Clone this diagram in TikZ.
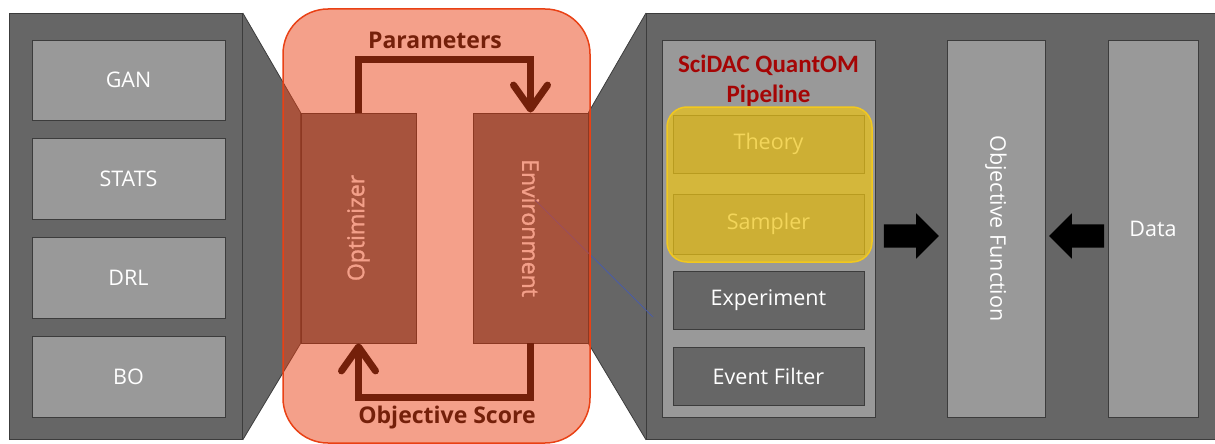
\documentclass[tikz,border=0pt]{standalone}
\usepackage{fontspec}
\setmainfont{Open Sans}
\newfontfamily\titlefont{Carlito}
\newfontfamily\semifont[BoldFont={Open Sans},BoldFeatures={FakeBold=1.2}]{Open Sans}
\usetikzlibrary{arrows.meta,shapes.arrows,backgrounds}
\definecolor{panel}{RGB}{102,102,102}
\definecolor{boxgrey}{RGB}{153,153,153}
\definecolor{edgegrey}{RGB}{60,60,60}
\definecolor{overlayc}{RGB}{233,65,21}
\definecolor{titlered}{RGB}{165,5,5}
\definecolor{yellowov}{RGB}{238,196,20}
\definecolor{yellowedge}{RGB}{242,200,30}
\definecolor{theorygrey}{RGB}{128,128,128}
\definecolor{bluelinec}{RGB}{70,90,175}
\begin{document}
\begin{tikzpicture}[x=1pt,y=-1pt,
  panelbox/.style={fill=panel,draw=edgegrey,line width=0.8pt,inner sep=0pt,anchor=north west},
  lightbox/.style={fill=boxgrey,draw=edgegrey,line width=0.8pt,text=white,inner sep=0pt,
    font=\fontsize{21.5}{26}\selectfont},
  darkbox/.style={fill=panel,draw=edgegrey,line width=0.8pt,text=white,inner sep=0pt,
    font=\fontsize{21.5}{26}\selectfont},
  theorybox/.style={fill=theorygrey,draw=edgegrey,line width=0.8pt,text=white,inner sep=0pt,
    font=\fontsize{21.5}{26}\selectfont},
  midbox/.style={fill=panel,draw=edgegrey!80!black,line width=0.8pt,text=white,inner sep=0pt,
    minimum width=115pt,minimum height=230pt,font=\semifont\bfseries\fontsize{23}{26}\selectfont},
  flowline/.style={line width=7pt,black,-{Straight Barb[length=24pt,width=34pt,round]}},
  flowlabel/.style={text=black,font=\bfseries\fontsize{23}{27}\selectfont,inner sep=0pt},
  blockarrow/.style={single arrow,fill=black,draw=none,inner xsep=0pt,inner ysep=11.5pt,
    minimum height=55pt,minimum width=45pt,single arrow head extend=11pt,
    single arrow tip angle=90},
]
\useasboundingbox (0,0) rectangle (1215,444);

% left panel
\node[panelbox,minimum width=233pt,minimum height=426pt] (left) at (9,13) {};
\node[lightbox,minimum width=193pt,minimum height=80pt] (gan) at (128.5,80) {GAN};
\node[lightbox,minimum width=193pt,minimum height=81pt] (stats) at (128.5,178.5) {STATS};
\node[lightbox,minimum width=193pt,minimum height=81pt] (drl) at (128.5,277.5) {DRL};
\node[lightbox,minimum width=193pt,minimum height=81pt] (bo) at (128.5,376.5) {BO};

% right panel
\node[panelbox,minimum width=572pt,minimum height=426pt] (right) at (646,13) {};
\node[lightbox,anchor=north west,minimum width=213pt,minimum height=377pt] (pipe) at (662,40) {};
\node[text=titlered,align=center,inner sep=0pt,
  font=\titlefont\bfseries\fontsize{25}{30}\selectfont] (title) at (768.5,81) {SciDAC QuantOM\\Pipeline};
\node[theorybox,minimum width=191pt,minimum height=58pt] (theory) at (768.5,144) {Theory};
\node[theorybox,minimum width=191pt,minimum height=60pt] (sampler) at (768.5,224) {Sampler};
\node[darkbox,minimum width=191pt,minimum height=58pt] (exp) at (768.5,300) {Experiment};
\node[darkbox,minimum width=191pt,minimum height=58pt] (filter) at (768.5,376) {Event Filter};
\node[fill=yellowov,fill opacity=0.7,draw=yellowedge,draw opacity=1,line width=1.5pt,
  rounded corners=20pt,minimum width=205pt,minimum height=155pt,inner sep=0pt] (yel) at (769.5,184.5) {};

\node[lightbox,minimum width=98pt,minimum height=377pt] (objf) at (996,228.5) {\rotatebox{-90}{Objective Function}};
\node[lightbox,minimum width=90pt,minimum height=377pt] (data) at (1153,228.5) {Data};
\node[blockarrow] (arrR) at (905.5,236) {};
\node[blockarrow,shape border rotate=180] (arrL) at (1082.5,236) {};

% middle
\node[midbox] (opt) at (358.5,228) {\rotatebox{90}{Optimizer}};
\node[midbox] (env) at (530.5,228) {\rotatebox{-90}{Environment}};

\begin{scope}[on background layer]
  \fill[panel] (left.north east) -- (opt.north west) -- (opt.south west) -- (left.south east) -- cycle;
  \draw[edgegrey,line width=0.8pt] (left.north east) -- (opt.north west) -- (opt.south west) -- (left.south east);
  \fill[panel] (right.north west) -- (env.north east) -- (env.south east) -- (right.south west) -- cycle;
  \draw[edgegrey,line width=0.8pt] (right.north west) -- (env.north east) -- (env.south east) -- (right.south west);
\end{scope}

\draw[flowline] (opt.north) -- ++(0,-53) -| (env.north);
\draw[flowline] (env.south) -- ++(0,54) -| (opt.south);
\node[flowlabel] (params) at (435,40) {Parameters};
\node[flowlabel] (score) at (447,418) {Objective Score};

\coordinate (b1) at (535,200);
\coordinate (b2) at (653,317);
\draw[bluelinec,line width=0.7pt] (b1) -- (b2);

% orange translucent overlay
\node[fill=overlayc,fill opacity=0.5,draw=overlayc,draw opacity=1,line width=1.5pt,
  rounded corners=45pt,minimum width=307pt,minimum height=434pt,inner sep=0pt] (mid) at (436.5,226) {};
\end{tikzpicture}
\end{document}
